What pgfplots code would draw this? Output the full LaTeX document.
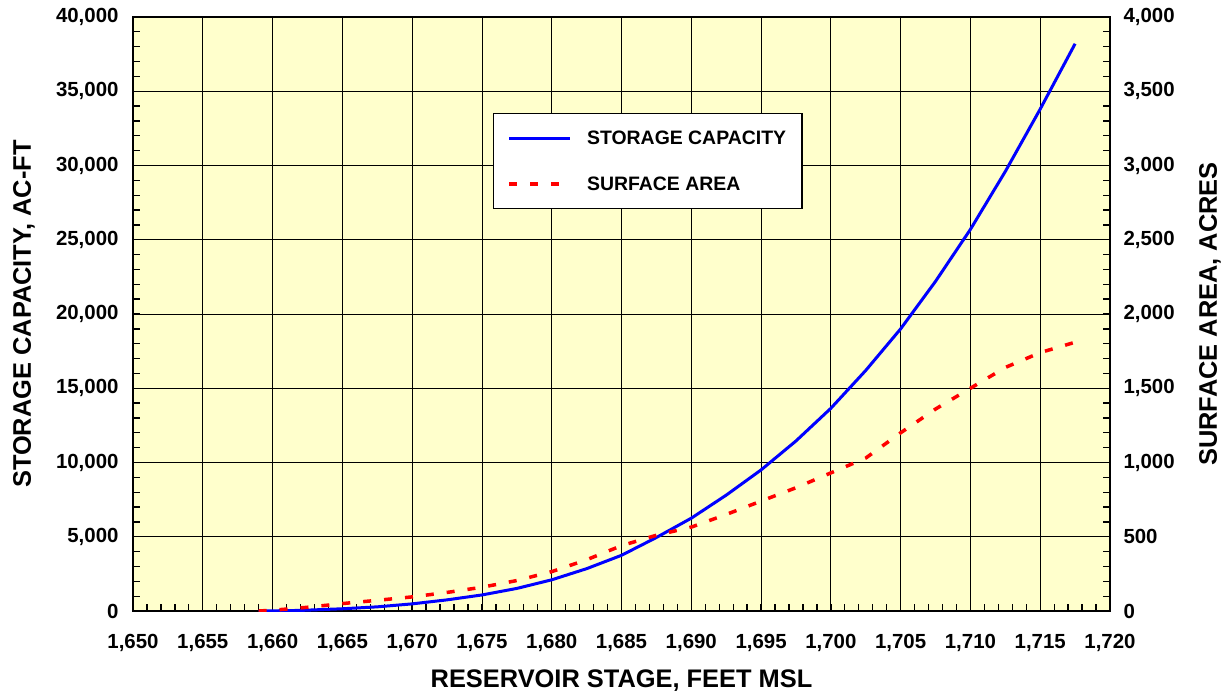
\documentclass[border=0pt]{standalone}
\usepackage{pgfplots}
\pgfplotsset{compat=1.18}
\usepackage{fontspec}
\setmainfont{Liberation Sans}
\definecolor{bgyellow}{RGB}{255,255,204}
\pgfplotsset{/pgf/number format/1000 sep={,}, /pgf/number format/assume math mode=true}
\pgfplotstableread{
x y
1659 0
1660 10
1662 40
1665 150
1667.5 280
1670 480
1672.5 750
1675 1080
1677.5 1520
1680 2100
1682.5 2850
1685 3750
1687.5 4950
1690 6250
1692.5 7800
1695 9500
1697.5 11450
1700 13650
1702.5 16200
1705 19000
1707.5 22200
1710 25700
1712.5 29600
1715 33800
1717.5 38200
}\storage
\pgfplotstableread{
x y
1659 0
1660 5
1662.5 25
1665 50
1667.5 72
1670 95
1672.5 125
1675 160
1677.5 205
1680 265
1682.5 345
1685 440
1687.5 510
1690 565
1692.5 650
1695 740
1697.5 830
1700 930
1702.5 1030
1705 1200
1707.5 1360
1710 1500
1712.5 1640
1715 1740
1717.5 1810
}\area
\begin{document}
\begin{tikzpicture}
\pgfplotsset{
  common/.style={
    scale only axis, width=977bp, height=594bp,
    xmin=1650, xmax=1720,
    scaled ticks=false,
    tick align=inside,
    major tick length=7bp, minor tick length=7bp,
    every tick/.style={black, line width=1.3bp},
    axis line style={black, line width=2.6bp},
    ticklabel style={font=\fontsize{20.5}{24}\selectfont\bfseries},
    label style={font=\fontsize{25.5}{30}\selectfont\bfseries},
  }
}
\begin{axis}[common,
  axis background/.style={fill=bgyellow},
  ymin=0, ymax=40000,
  xtick distance=5, minor x tick num=4,
  ytick distance=5000, minor y tick num=4,
  xtick pos=bottom, ytick pos=left,
  grid=major,
  major grid style={black, line width=0.8bp},
  xticklabel style={yshift=-20bp},
  yticklabel style={xshift=-11bp},
  xlabel={RESERVOIR STAGE, FEET MSL},
  ylabel={STORAGE CAPACITY, AC-FT},
  xlabel style={at={(axis description cs:0.5,-0.1178)}, anchor=center},
  ylabel style={at={(axis description cs:-0.1116,0.5)}, anchor=center},
]
\addplot[blue, line width=3bp] table {\storage};
\end{axis}
\begin{axis}[common,
  axis x line=none,
  axis y line*=right,
  ymin=0, ymax=4000,
  ytick distance=500, minor y tick num=4,
  yticklabel style={xshift=10bp},
  ylabel={SURFACE AREA, ACRES},
  ylabel style={at={(axis description cs:1.1024,0.5)}, anchor=center, rotate=0},
  legend style={at={(axis description cs:0.3685,0.8384)}, anchor=north west,
    draw=black, line width=1.2bp, fill=white,
    font=\fontsize{19.5}{23}\selectfont\bfseries,
    inner xsep=14bp, inner ysep=15bp, row sep=27bp},
  legend cell align=left,
  legend image code/.code={\draw[#1] (0bp,0bp) -- (61bp,0bp); \path (74bp,0bp);},
]
\addlegendimage{blue, line width=3bp}
\addlegendentry{STORAGE CAPACITY}
\addplot[red, line width=3.5bp, dash pattern=on 8bp off 13bp] table {\area};
\addlegendentry{SURFACE AREA}
\end{axis}
\pgfresetboundingbox
\path[use as bounding box] (-133bp,-87bp) rectangle (1098bp,611bp);
\end{tikzpicture}
\end{document}
